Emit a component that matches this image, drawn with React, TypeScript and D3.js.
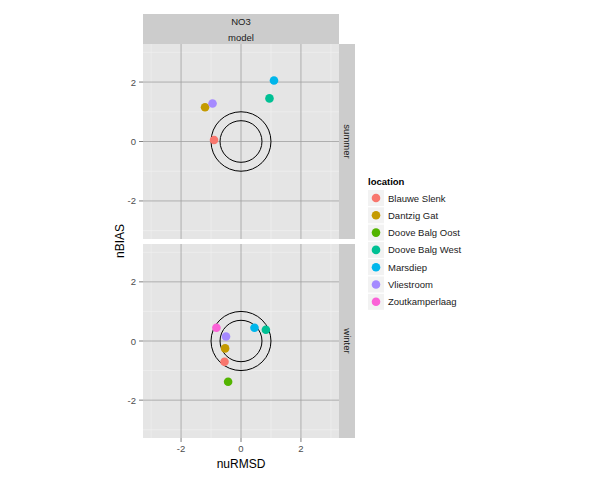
import React from "react";
import * as d3 from "d3";

const locations = ["Blauwe Slenk","Dantzig Gat","Doove Balg Oost","Doove Balg West","Marsdiep","Vliestroom","Zoutkamperlaag"];
const colors = ["#F8766D","#C49A00","#53B400","#00C094","#00B6EB","#A58AFF","#FB61D7"];
const seasons = ["summer","winter"];
const summerPts = [
  { loc: "Blauwe Slenk", x: -0.9, y: 0.05 },
  { loc: "Dantzig Gat", x: -1.2, y: 1.15 },
  { loc: "Vliestroom", x: -0.95, y: 1.28 },
  { loc: "Doove Balg West", x: 0.95, y: 1.45 },
  { loc: "Marsdiep", x: 1.1, y: 2.05 },
];
const winterPts = [
  { loc: "Zoutkamperlaag", x: -0.82, y: 0.45 },
  { loc: "Marsdiep", x: 0.45, y: 0.45 },
  { loc: "Doove Balg West", x: 0.83, y: 0.38 },
  { loc: "Vliestroom", x: -0.5, y: 0.15 },
  { loc: "Dantzig Gat", x: -0.53, y: -0.25 },
  { loc: "Blauwe Slenk", x: -0.55, y: -0.7 },
  { loc: "Doove Balg Oost", x: -0.43, y: -1.38 },
];
const ticks = [-2, 0, 2];
const circles = [0.7, 1];

export default function App() {
  const W = 600, H = 480;
  const x = d3.scaleLinear().domain([-3.27, 3.27]).range([143, 339]);
  const panels = [
    { name: "summer", top: 44, bottom: 239, pts: summerPts },
    { name: "winter", top: 244, bottom: 438, pts: winterPts },
  ];
  const color = d3.scaleOrdinal<string, string>().domain(locations).range(colors);
  const font = "Arial, 'Liberation Sans', sans-serif";
  const minor = [-3, -1, 1, 3];
  return (
    <svg width={W} height={H} style={{ position: "absolute", left: 0, top: 0, background: "#fff" }} fontFamily={font}>
      <rect x={143} y={14} width={196} height={15} fill="#CCCCCC" />
      <rect x={143} y={29} width={196} height={15} fill="#CCCCCC" />
      <text x={241} y={25} textAnchor="middle" fontSize={9.5} fill="#1a1a1a">NO3</text>
      <text x={241} y={41} textAnchor="middle" fontSize={9.5} fill="#1a1a1a">model</text>
      {panels.map((p) => {
        const y = d3.scaleLinear().domain([-3.28, 3.28]).range([p.bottom, p.top]);
        return (
          <g key={p.name}>
            <rect x={143} y={p.top} width={196} height={p.bottom - p.top} fill="#E5E5E5" />
            {minor.map((t) => (
              <g key={t}>
                <line x1={x(t)} x2={x(t)} y1={p.top} y2={p.bottom} stroke="#F2F2F2" strokeWidth={0.6} />
                <line x1={143} x2={339} y1={y(t)} y2={y(t)} stroke="#F2F2F2" strokeWidth={0.6} />
              </g>
            ))}
            {ticks.map((t) => (
              <g key={t}>
                <line x1={x(t)} x2={x(t)} y1={p.top} y2={p.bottom} stroke="#A0A0A0" strokeWidth={0.8} />
                <line x1={143} x2={339} y1={y(t)} y2={y(t)} stroke="#A0A0A0" strokeWidth={0.8} />
                <line x1={139} x2={143} y1={y(t)} y2={y(t)} stroke="#7f7f7f" />
                <text x={136} y={y(t) + 3.5} textAnchor="end" fontSize={9.5} fill="#4d4d4d">{t}</text>
              </g>
            ))}
            {circles.map((r) => (
              <ellipse key={r} cx={x(0)} cy={y(0)} rx={x(r) - x(0)} ry={y(0) - y(r)} fill="none" stroke="#000" strokeWidth={1} />
            ))}
            {p.pts.map((d) => (
              <circle key={d.loc} cx={x(d.x)} cy={y(d.y)} r={4.3} fill={color(d.loc)} />
            ))}
            <rect x={339} y={p.top} width={16} height={p.bottom - p.top} fill="#CCCCCC" />
            <text transform={`translate(344,${(p.top + p.bottom) / 2}) rotate(90)`} textAnchor="middle" fontSize={9.5} fill="#1a1a1a">{p.name}</text>
          </g>
        );
      })}
      {ticks.map((t) => (
        <g key={t}>
          <line x1={x(t)} x2={x(t)} y1={438} y2={442} stroke="#7f7f7f" />
          <text x={x(t)} y={452} textAnchor="middle" fontSize={9.5} fill="#4d4d4d">{t}</text>
        </g>
      ))}
      <text x={241} y={468} textAnchor="middle" fontSize={12}>nuRMSD</text>
      <text transform="translate(124,241) rotate(-90)" textAnchor="middle" fontSize={12}>nBIAS</text>
      <text x={368} y={185} fontSize={9.5} fontWeight="bold">location</text>
      {locations.map((l, i) => (
        <g key={l}>
          <rect x={368} y={190 + i * 17.3} width={16} height={16} fill="#F2F2F2" />
          <circle cx={376} cy={198 + i * 17.3} r={4.3} fill={colors[i]} />
          <text x={388} y={201.5 + i * 17.3} fontSize={9.5} fill="#1a1a1a">{l}</text>
        </g>
      ))}
    </svg>
  );
}
